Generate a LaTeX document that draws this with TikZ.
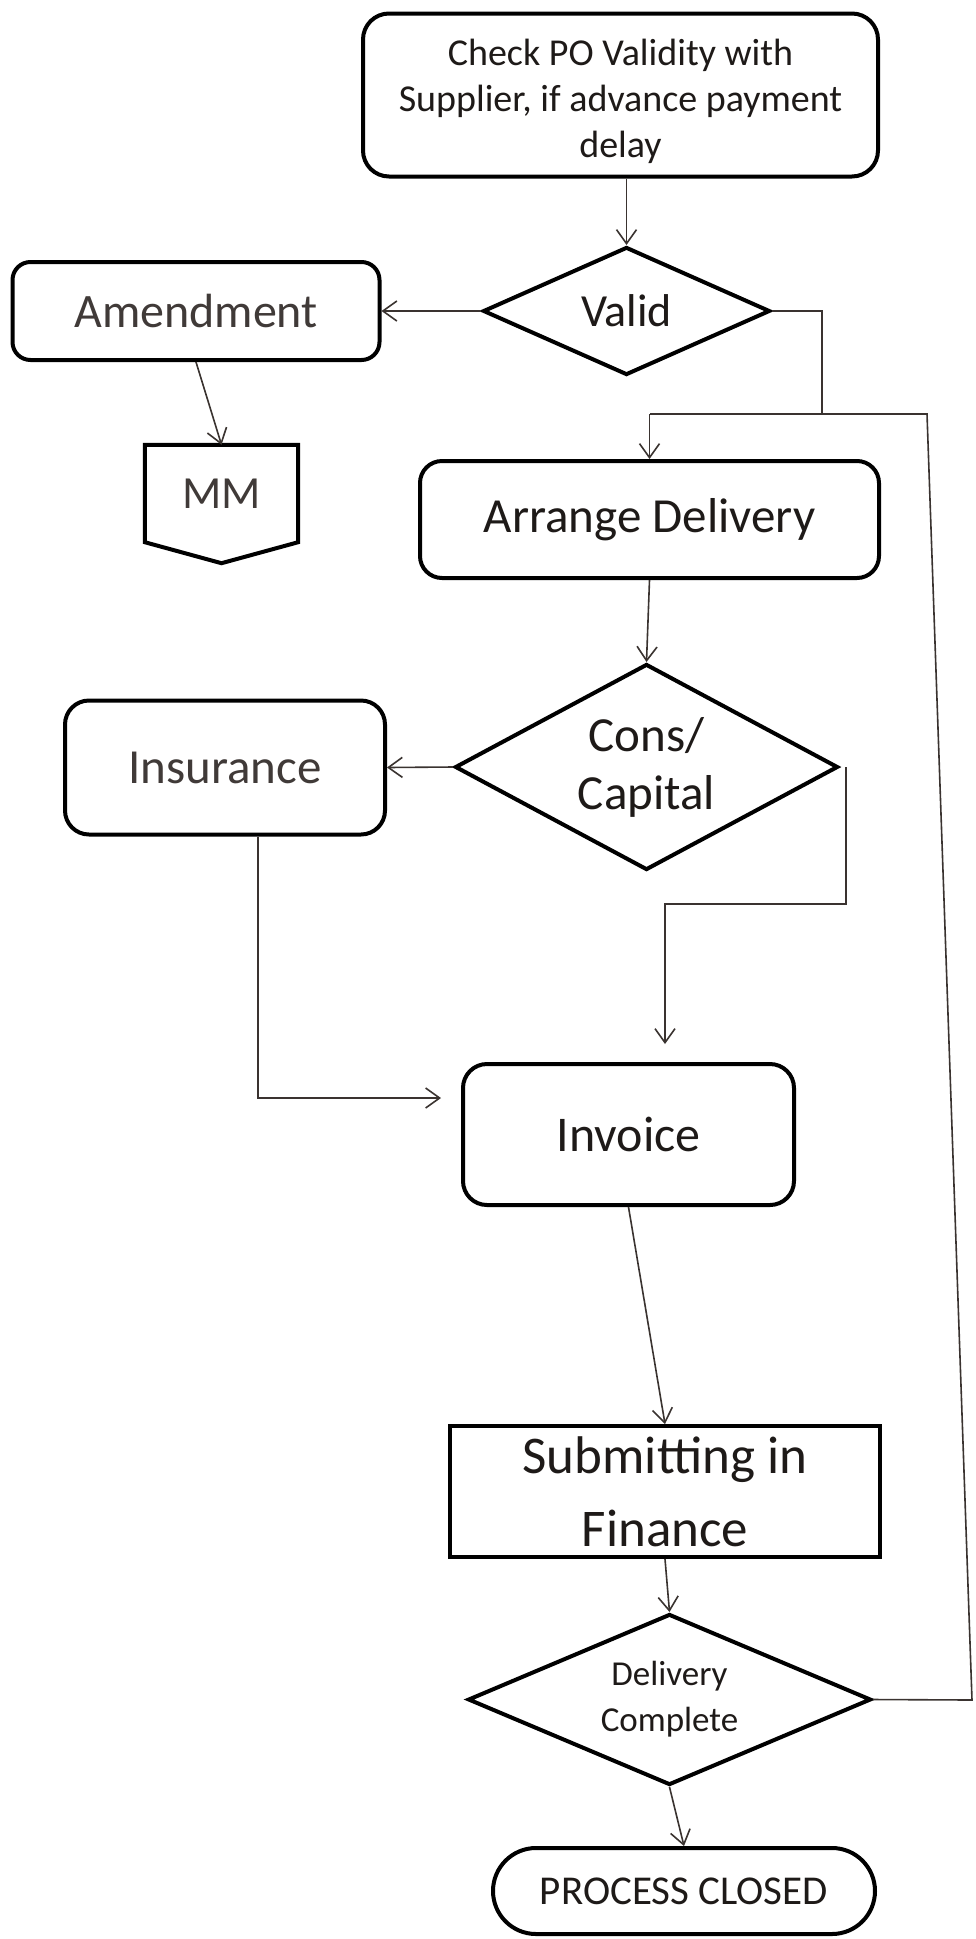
\documentclass[tikz,border=0pt]{standalone}
\usepackage{fontspec}
\setmainfont{Carlito}
\usetikzlibrary{arrows.meta,shapes.geometric}
\definecolor{txt}{HTML}{1E1A18}
\definecolor{lighttxt}{HTML}{403A38}
\definecolor{linec}{HTML}{3A3330}
\tikzset{
  box/.style={draw=black, line width=4pt, rounded corners=22pt, align=center, inner sep=0pt, text=txt},
  sqbox/.style={draw=black, line width=4pt, align=center, inner sep=0pt, text=txt},
  dia/.style={draw=black, diamond, line width=4pt, inner sep=0pt, align=center, text=txt},
  conn/.style={draw=linec, line width=1.6pt},
  arr/.style={conn, -{Straight Barb[length=14pt,width=20pt,line width=1.6pt]}},
}
\begin{document}
\begin{tikzpicture}[x=1pt,y=-1pt]
\useasboundingbox (0,0) rectangle (975,1939);
\fill[white] (0,0) rectangle (975,1939);

% nodes
\node[box, rounded corners=26pt, minimum width=515pt, minimum height=163pt, font=\fontsize{38}{46}\selectfont] (cp) at (620.5,95)
  {\rule{0pt}{40pt}Check PO Validity with\\Supplier, if advance payment\\delay};
\node[dia, aspect=2.24, minimum width=287pt, minimum height=128pt, font=\fontsize{46}{55}\selectfont] (valid) at (626.5,311) {Valid};
\node[box, rounded corners=18pt, minimum width=367pt, minimum height=98pt, text=lighttxt, font=\fontsize{48}{58}\selectfont] (amend) at (196,311) {Amendment};
\node[minimum width=153pt, minimum height=97pt, inner sep=0pt, text=lighttxt, font=\fontsize{46}{55}\selectfont] (mm) at (221.5,493.5) {MM};
\draw[black, line width=4pt] (mm.north west) -- (mm.north east) -- (mm.south east) -- ([yshift=-21pt]mm.south) -- (mm.south west) -- cycle;
\node[box, minimum width=459pt, minimum height=117pt, font=\fontsize{49}{59}\selectfont] (arrange) at (649.5,519.5) {Arrange Delivery};
\node[dia, aspect=1.86, minimum width=383pt, minimum height=206pt, font=\fontsize{49}{58}\selectfont] (cons) at (646.5,767) {Cons/\\Capital};
\node[box, rounded corners=24pt, minimum width=320pt, minimum height=134pt, text=lighttxt, font=\fontsize{49}{59}\selectfont] (ins) at (225,767.5) {Insurance};
\node[box, rounded corners=24pt, minimum width=331pt, minimum height=141pt, font=\fontsize{50}{60}\selectfont] (inv) at (628.5,1134.5) {Invoice};
\node[sqbox, minimum width=430pt, minimum height=131pt, font=\fontsize{53}{73}\selectfont] (sub) at (665,1491.5) {Submitting in\\Finance};
\node[dia, aspect=2.36, minimum width=403pt, minimum height=171pt, font=\fontsize{35}{46}\selectfont] (dc) at (669.5,1699.5) {Delivery\\Complete};
\node[box, rounded corners=43pt, minimum width=382pt, minimum height=86pt, font=\fontsize{41}{50}\selectfont] (pc) at (684,1891) {PROCESS CLOSED};

% junction coordinates
\coordinate (vj) at (822,414);
\coordinate (aj) at (649.5,414);
\coordinate (r1) at (972,1700);
\coordinate (r2) at (927,414);
\coordinate (cd) at (846,904);
\coordinate (ci) at (665,1044);
\coordinate (ib) at (441,1098);

% connectors
\draw[arr] (valid.north |- cp.south) -- (valid.north);
\draw[arr] (valid.west) -- (amend.east);
\draw[arr] (amend.south) -- (mm.north);
\draw[conn] (valid.east) -| (vj) -- (aj);
\draw[conn] (dc.east) -- (r1) -- (r2) -- (vj);
\draw[arr] (aj) -- (arrange.north);
\draw[arr] (arrange.south) -- (cons.north);
\draw[arr] (cons.west) -- (ins.east);
\draw[arr] ([xshift=6pt]cons.east) -- (cd) -| (ci);
\draw[arr] ([xshift=33pt]ins.south) |- (ib);
\draw[arr] (inv.south) -- (sub.north);
\draw[arr] (sub.south) -- (dc.north);
\draw[arr] (dc.south) -- (pc.north);
\end{tikzpicture}
\end{document}
